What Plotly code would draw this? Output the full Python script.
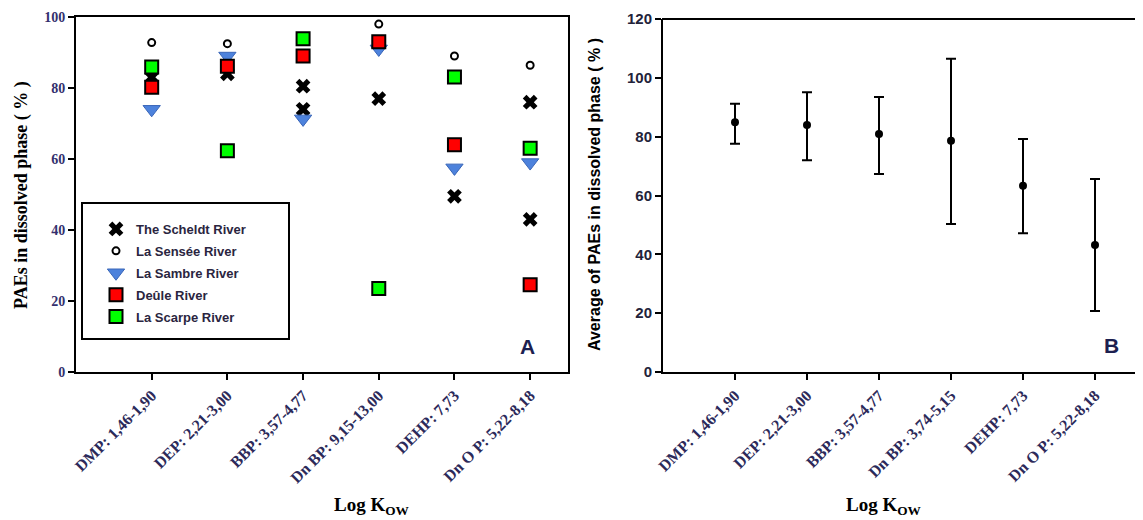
import plotly.graph_objects as go

# ---------------- data ----------------
cats_a = ["DMP: 1,46-1,90", "DEP: 2,21-3,00", "BBP: 3,57-4,77",
          "Dn BP: 9,15-13,00", "DEHP: 7,73", "Dn O P: 5,22-8,18"]
cats_b = ["DMP: 1,46-1,90", "DEP: 2,21-3,00", "BBP: 3,57-4,77",
          "Dn BP: 3,74-5,15", "DEHP: 7,73", "Dn O P: 5,22-8,18"]

scheldt_x = [1, 2, 3, 3, 4, 5, 6, 6]
scheldt_y = [83, 84, 80.5, 74, 77, 49.5, 76, 43]
sensee_x = [1, 2, 4, 5, 6]
sensee_y = [92.8, 92.5, 98, 89, 86.4]
sambre_x = [1, 2, 3, 4, 5, 6]
sambre_y = [74, 89, 71.3, 91, 57.5, 59]
deule_x = [1, 2, 3, 4, 5, 6]
deule_y = [80.2, 86.1, 89, 93, 64, 24.6]
scarpe_x = [1, 2, 3, 4, 5, 6]
scarpe_y = [85.9, 62.3, 93.9, 23.5, 83.1, 63]

avg_x = [1, 2, 3, 4, 5, 6]
avg_y = [84.9, 84.0, 80.9, 78.6, 63.3, 43.2]
avg_hi = [91.2, 95.1, 93.5, 106.5, 79.2, 65.6]
avg_lo = [77.6, 72.0, 67.3, 50.3, 47.2, 20.7]

# ---------------- figure ----------------
W, H = 1135, 512
OFF = 8  # page body margin


def px(x):
    return (x - OFF) / W


def py(y):
    return 1 - (y - OFF) / H


fig = go.Figure()

leg_font = dict(family="Liberation Sans", size=13, color="#2a2540", weight="bold")

fig.add_trace(go.Scatter(x=scheldt_x, y=scheldt_y, mode="markers", name="The Scheldt River",
                         legendgroup="g1",
                         marker=dict(symbol="x", size=13, color="black", line=dict(width=0)),
                         xaxis="x", yaxis="y"))
fig.add_trace(go.Scatter(x=sensee_x, y=sensee_y, mode="markers", name="La Sensée River",
                         legendgroup="g2",
                         marker=dict(symbol="circle", size=7, color="white",
                                     line=dict(width=2, color="black")),
                         xaxis="x", yaxis="y"))
fig.add_trace(go.Scatter(x=sambre_x, y=sambre_y, mode="markers", name="La Sambre River",
                         legendgroup="g3",
                         marker=dict(symbol="triangle-down", size=15, color="#4d82dc",
                                     line=dict(width=1, color="#3a66b8")),
                         xaxis="x", yaxis="y"))
fig.add_trace(go.Scatter(x=deule_x, y=deule_y, mode="markers", name="Deûle River",
                         legendgroup="g4",
                         marker=dict(symbol="square", size=13, color="#ff0000",
                                     line=dict(width=2, color="black")),
                         xaxis="x", yaxis="y"))
fig.add_trace(go.Scatter(x=scarpe_x, y=scarpe_y, mode="markers", name="La Scarpe River",
                         legendgroup="g5",
                         marker=dict(symbol="square", size=13, color="#00ff00",
                                     line=dict(width=2, color="black")),
                         xaxis="x", yaxis="y"))

fig.add_trace(go.Scatter(
    x=avg_x, y=avg_y, mode="markers", showlegend=False,
    marker=dict(symbol="circle", size=8, color="black"),
    error_y=dict(type="data", symmetric=False,
                 array=[h - m for h, m in zip(avg_hi, avg_y)],
                 arrayminus=[m - l for m, l in zip(avg_y, avg_lo)],
                 color="black", thickness=2, width=5),
    xaxis="x2", yaxis="y2"))

tick_x_font = dict(family="Liberation Serif", size=16, color="#2c2a5a", weight="bold")

common = dict(showline=True, linecolor="black", linewidth=2,
              ticks="outside", ticklen=6, tickwidth=2, tickcolor="black",
              showgrid=False, zeroline=False, automargin=False)

X2_END = OFF + W
fig.update_layout(
    width=W, height=H,
    margin=dict(l=0, r=0, t=0, b=0, autoexpand=False),
    paper_bgcolor="white", plot_bgcolor="white",
    showlegend=True,
    legend=dict(x=px(96), y=py(214), xanchor="left", yanchor="top",
                bgcolor="rgba(0,0,0,0)", borderwidth=0,
                font=leg_font, tracegroupgap=2, itemsizing="trace"),
    xaxis=dict(domain=[px(76), px(568)], range=[0, 6.5],
               tickmode="array", tickvals=[1, 2, 3, 4, 5, 6], ticktext=cats_a,
               tickangle=-45, tickfont=tick_x_font, mirror=True, anchor="y", **common),
    yaxis=dict(domain=[py(372), py(17)], range=[0, 100],
               tickvals=[0, 20, 40, 60, 80, 100],
               tickfont=dict(family="Liberation Serif", size=14, color="#33306e", weight="bold"),
               mirror=True, anchor="x", **common),
    xaxis2=dict(domain=[px(663), px(X2_END)], range=[0, (X2_END - 663) / 72.0],
                tickmode="array", tickvals=[1, 2, 3, 4, 5, 6], ticktext=cats_b,
                tickangle=-45, tickfont=tick_x_font, mirror=False, anchor="y2", **common),
    yaxis2=dict(domain=[py(372), py(19)], range=[0, 120],
                tickvals=[0, 20, 40, 60, 80, 100, 120],
                tickfont=dict(family="Liberation Sans", size=15, color="#22223a", weight="bold"),
                mirror=False, anchor="x2", **common),
)

# legend frame
fig.add_shape(type="rect", xref="paper", yref="paper",
              x0=px(82), x1=px(289), y0=py(339), y1=py(203),
              line=dict(color="black", width=2), fillcolor="rgba(0,0,0,0)")
# top frame line of panel B (frame continues past the right edge)
fig.add_shape(type="line", xref="paper", yref="paper",
              x0=px(662), x1=1.0, y0=py(19), y1=py(19),
              line=dict(color="black", width=2))

mid = dict(xref="paper", yref="paper", showarrow=False, xanchor="center", yanchor="middle")
ann = []
ann.append(dict(text="<b>PAEs in dissolved phase ( % )</b>", textangle=-90,
                x=px(21), y=py(195),
                font=dict(family="Liberation Serif", size=18, color="black"), **mid))
ann.append(dict(text="<b>Average of PAEs in dissolved phase ( % )</b>", textangle=-90,
                x=px(594), y=py(195),
                font=dict(family="Liberation Sans", size=16, color="black"), **mid))
ann.append(dict(text="<b>Log K<sub>OW</sub></b>", x=px(372), y=py(506),
                font=dict(family="Liberation Serif", size=19, color="black"), **mid))
ann.append(dict(text="<b>Log K<sub>OW</sub></b>", x=px(884), y=py(506),
                font=dict(family="Liberation Serif", size=19, color="black"), **mid))
ann.append(dict(text="<b>A</b>", x=px(527), y=py(346),
                font=dict(family="Liberation Sans", size=21, color="#1c2050"), **mid))
ann.append(dict(text="<b>B</b>", x=px(1111), y=py(345),
                font=dict(family="Liberation Sans", size=21, color="#1c2050"), **mid))
fig.update_layout(annotations=ann)

fig.write_html("out.html")
